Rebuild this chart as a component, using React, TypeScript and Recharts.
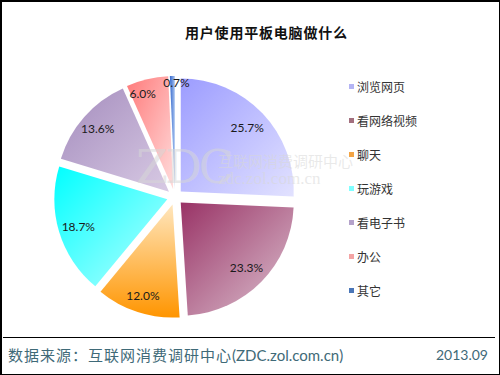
import React from "react";
import { PieChart, Pie, Cell, Sector, Legend } from "recharts";

const categories = ["浏览网页", "看网络视频", "聊天", "玩游戏", "看电子书", "办公", "其它"];
const shares = [25.7, 23.3, 12.0, 18.7, 13.6, 6.0, 0.7];

const gradients = [
  { id: "g0", from: "#9c9cff", to: "#e2e2ff", x2: 1, y2: 1 },
  { id: "g1", from: "#993366", to: "#dcc2d0", x2: 1, y2: 1 },
  { id: "g2", from: "#ffe6bd", to: "#ff9500", x2: 0, y2: 1 },
  { id: "g3", from: "#00ffff", to: "#b8ffff", x2: 1, y2: 1 },
  { id: "g4", from: "#a48cbd", to: "#d8cae4", x2: 1, y2: 1 },
  { id: "g5", from: "#ff7a7a", to: "#ffdcdc", x2: 1, y2: 1 },
  { id: "g6", from: "#3366cc", to: "#a8c4f0", x2: 1, y2: 0 },
];
const legendColors = ["#b4b4f4", "#a3707f", "#f3a444", "#80ffff", "#b4a2ca", "#f4a4a4", "#4a76b8"];

const data = categories.map((name, i) => ({ name, value: shares[i] }));

const RAD = Math.PI / 180;
const EXPLODE = 8;

const ExplodedSlice = (props: any) => {
  const { cx, cy, midAngle, innerRadius, outerRadius, startAngle, endAngle, fill } = props;
  const dx = EXPLODE * Math.cos(-midAngle * RAD);
  const dy = EXPLODE * Math.sin(-midAngle * RAD);
  return (
    <Sector
      cx={cx + dx}
      cy={cy + dy}
      innerRadius={innerRadius}
      outerRadius={outerRadius}
      startAngle={startAngle}
      endAngle={endAngle}
      fill={fill}
      stroke="none"
    />
  );
};

// small slices push their label further out and spread apart a little
const renderLabel = (props: any) => {
  const { cx, cy, midAngle, value } = props;
  const k = Math.max(0, 1 - value / 25);
  const r = 100 + 15 * k * k;
  const spread = value < 1 ? -2 : value < 10 ? 4 : 0;
  const a = (midAngle + spread) * RAD;
  const x = cx + r * Math.cos(-a);
  const y = cy + r * Math.sin(-a);
  return (
    <text x={x} y={y} textAnchor="middle" dominantBaseline="central"
      fontFamily="Lato, sans-serif" fontSize={12} fill="#1a1a1a">
      {value.toFixed(1)}%
    </text>
  );
};

const LegendBox = () => (
  <div>
    {categories.map((c, i) => (
      <div key={c} style={{ height: 34, display: "flex", alignItems: "center" }}>
        <span style={{ width: 5, height: 5, background: legendColors[i], marginRight: 3 }} />
        <span style={{ fontFamily: "'Noto Sans CJK SC', sans-serif", fontSize: 12, color: "#333" }}>{c}</span>
      </div>
    ))}
  </div>
);

export default function App() {
  return (
    <div style={{ position: "fixed", left: 0, top: 0, width: 500, height: 375, background: "#fff", overflow: "hidden" }}>
      <div style={{ position: "absolute", left: 0, top: 0, width: 497, height: 372, borderLeft: "2px solid #000", borderTop: "2px solid #000", borderRight: "1px solid #000", borderBottom: "1px solid #000" }} />
      <div style={{ position: "absolute", left: 185, top: 22, fontFamily: "'Noto Sans CJK SC', sans-serif", fontWeight: 700, fontSize: 14, letterSpacing: 0.8, color: "#111", lineHeight: "20px" }}>
        用户使用平板电脑做什么
      </div>

      <div style={{ position: "absolute", left: 0, top: 0 }}>
        <PieChart width={500} height={335}>
          <defs>
            {gradients.map((g) => (
              <linearGradient key={g.id} id={g.id} x1={0} y1={0} x2={g.x2} y2={g.y2}>
                <stop offset="0%" stopColor={g.from} />
                <stop offset="100%" stopColor={g.to} />
              </linearGradient>
            ))}
          </defs>
          <Pie
            data={data}
            dataKey="value"
            nameKey="name"
            cx={170}
            cy={192}
            outerRadius={113}
            startAngle={90}
            endAngle={-270}
            stroke="none"
            shape={ExplodedSlice}
            label={renderLabel}
            labelLine={false}
            isAnimationActive={false}
          >
            {data.map((d, i) => (
              <Cell key={d.name} fill={`url(#${gradients[i].id})`} />
            ))}
          </Pie>
          <Legend
            layout="vertical"
            content={<LegendBox />}
            wrapperStyle={{ left: 349, top: 69, width: 140 }}
          />
        </PieChart>
      </div>

      <div style={{ position: "absolute", left: 136, top: 142, pointerEvents: "none", color: "rgba(215,215,215,0.55)" }}>
        <span style={{ position: "absolute", left: 0, top: 0, fontFamily: "'DejaVu Serif', serif", fontSize: 46, lineHeight: "50px", letterSpacing: -3 }}>ZDC</span>
        <span style={{ position: "absolute", left: 82, top: 10, whiteSpace: "nowrap", fontFamily: "'Noto Sans CJK SC', sans-serif", fontSize: 15, lineHeight: "18px" }}>互联网消费调研中心</span>
        <span style={{ position: "absolute", left: 82, top: 28, whiteSpace: "nowrap", fontFamily: "'Liberation Serif', serif", fontSize: 17, lineHeight: "18px" }}>zdc.zol.com.cn</span>
      </div>

      <div style={{ position: "absolute", left: 3, top: 337, width: 492, height: 1, background: "#000" }} />
      <div style={{ position: "absolute", left: 8, top: 345, color: "#3f6a78", fontSize: 15, lineHeight: "20px", whiteSpace: "nowrap" }}>
        <span style={{ fontFamily: "'Noto Sans CJK SC', sans-serif", letterSpacing: 1 }}>数据来源：互联网消费调研中心</span>
        <span style={{ fontFamily: "Lato, sans-serif" }}>(ZDC.zol.com.cn)</span>
      </div>
      <div style={{ position: "absolute", right: 12, top: 345, color: "#3f6a78", fontFamily: "Lato, sans-serif", fontSize: 14, lineHeight: "20px" }}>
        2013.09
      </div>
    </div>
  );
}
